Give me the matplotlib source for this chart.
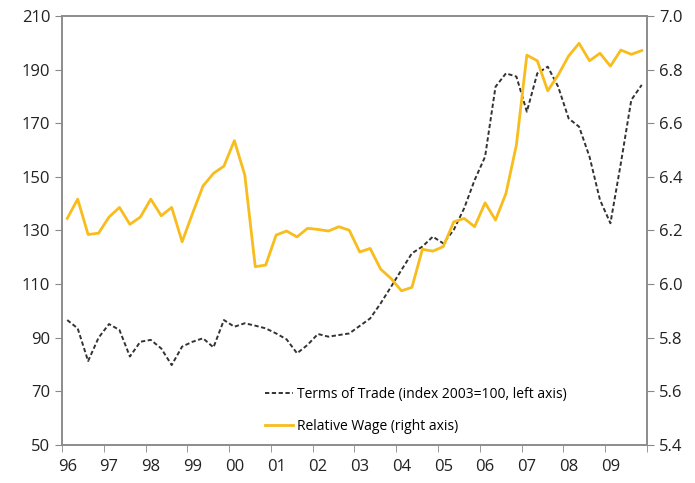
import matplotlib
matplotlib.use('Agg')
import matplotlib.pyplot as plt

# quarterly data, 1996Q1 - 2009Q4
years = ['96', '97', '98', '99', '00', '01', '02', '03', '04', '05', '06', '07', '08', '09']

terms_of_trade = [96.6, 93.5, 81.3, 90.0, 95.1, 92.9, 83.0, 88.5, 89.2, 86.0, 79.8, 86.7, 88.5, 89.8,
                  86.4, 96.6, 94.1, 95.4, 94.5, 93.5, 91.6, 89.4, 84.2, 87.3, 91.4, 90.4, 91.0, 91.6,
                  94.4, 97.2, 102.8, 109.0, 115.3, 121.5, 124.0, 127.7, 125.2, 130.2, 138.3, 148.8, 157.5, 183.6,
                  188.6, 187.4, 174.3, 188.6, 191.1, 183.6, 171.8, 168.7, 157.5, 141.4, 132.7, 155.1, 178.7, 184.3]

relative_wage = [6.245, 6.317, 6.185, 6.19, 6.25, 6.286, 6.223, 6.25, 6.317, 6.255, 6.286, 6.158, 6.264, 6.366,
                 6.413, 6.44, 6.535, 6.407, 6.065, 6.071, 6.183, 6.198, 6.176, 6.208, 6.204, 6.198, 6.214, 6.201,
                 6.12, 6.133, 6.056, 6.021, 5.975, 5.988, 6.13, 6.123, 6.14, 6.232, 6.245, 6.214, 6.303, 6.239,
                 6.338, 6.519, 6.854, 6.833, 6.721, 6.78, 6.851, 6.898, 6.833, 6.861, 6.813, 6.873, 6.857, 6.871]

plt.rcParams['font.family'] = ['Open Sans', 'DejaVu Sans']

fig = plt.figure(figsize=(6.95, 4.83), dpi=100)
ax = fig.add_axes([0.0892, 0.0787, 0.8417, 0.8882])
ax2 = ax.twinx()

x = list(range(len(terms_of_trade)))
l1, = ax.plot(x, terms_of_trade, color='#333333', lw=1.4, ls=(0, (2.2, 1.3)),
              label='Terms of Trade (index 2003=100, left axis)')
l2, = ax2.plot(x, relative_wage, color='#F8BC1C', lw=2.0,
               label='Relative Wage (right axis)')

ax.set_xlim(-0.5, len(x) - 0.5)
ax.set_ylim(50, 210)
ax.set_yticks(range(50, 211, 20))
ax2.set_ylim(5.4, 7.0)
ax2.set_yticks([5.4, 5.6, 5.8, 6.0, 6.2, 6.4, 6.6, 6.8, 7.0])
ax2.set_yticklabels(['%.1f' % v for v in ax2.get_yticks()])

ax.set_xticks(range(0, len(x), 4))
ax.set_xticklabels(years)
ax.set_xticks([i - 0.5 for i in range(0, len(x) + 1, 4)], minor=True)
ax.tick_params(axis='x', which='major', length=0, pad=10, labelsize=12, labelcolor='#222222')
ax.tick_params(axis='x', which='minor', length=5, color='#888888')
ax.tick_params(axis='y', length=5, color='#888888', labelsize=12, labelcolor='#222222')
ax2.tick_params(axis='y', length=5, color='#888888', labelsize=12, labelcolor='#222222')

for a in (ax, ax2):
    for s in a.spines.values():
        s.set_color('#8c8c8c')
        s.set_linewidth(1.2)

fig.legend(handles=[l1, l2], loc='lower left', bbox_to_anchor=(0.372, 0.088),
           frameon=False, fontsize=10, handlelength=2.0, handletextpad=0.25,
           labelspacing=1.2, borderpad=0)

fig.savefig('out.png', dpi=100)
